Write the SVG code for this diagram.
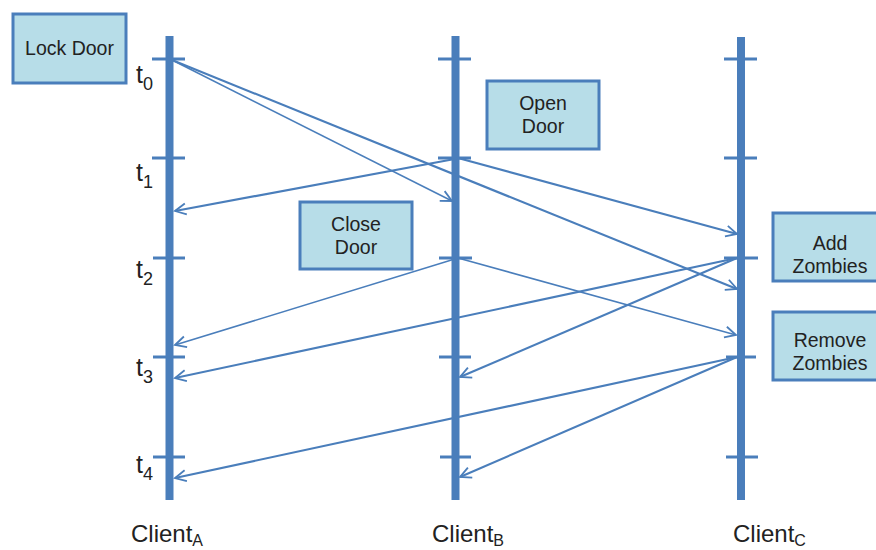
<svg xmlns="http://www.w3.org/2000/svg" width="876" height="550" viewBox="0 0 876 550">
  <style>
    .bar { stroke: #4a7ebb; stroke-width: 8; }
    .tick { stroke: #4a7ebb; stroke-width: 3; }
    .box { fill: #b7dde8; stroke: #4a7ebb; stroke-width: 3; }
    .lbl { font-family: "Liberation Sans", Arial, sans-serif; font-size: 19.5px; fill: #222; text-anchor: middle; }
    .tm { font-family: "Liberation Sans", Arial, sans-serif; font-size: 25px; fill: #222; }
    .cl { font-family: "Liberation Sans", Arial, sans-serif; font-size: 24px; fill: #222; }
    .sub { font-size: 18px; }
    .csub { font-size: 16px; }
    .msg { fill: none; stroke: #4a7ebb; stroke-width: 2.1; marker-end: url(#chev); }
    .msg.thin { stroke-width: 1.5; }
  </style>
  <defs>
    <marker id="chev" viewBox="-13 -8 15 16" refX="0" refY="0" markerWidth="15" markerHeight="16" markerUnits="userSpaceOnUse" orient="auto">
      <path d="M-11,-5.5 L0,0 L-11,5.5" fill="none" stroke="#4a7ebb" stroke-width="1.8"/>
    </marker>
  </defs>

  <rect width="876" height="550" fill="#ffffff"/>

  <!-- client timelines -->
  <g id="timeline-a">
    <line class="bar" x1="169.5" y1="36" x2="169.5" y2="500"/>
    <line class="tick" x1="152" y1="59" x2="185" y2="59"/>
    <line class="tick" x1="152" y1="158" x2="185" y2="158"/>
    <line class="tick" x1="153" y1="258" x2="185" y2="258"/>
    <line class="tick" x1="153" y1="357" x2="185" y2="357"/>
    <line class="tick" x1="153" y1="457" x2="185" y2="457"/>
  </g>
  <g id="timeline-b">
    <line class="bar" x1="455.5" y1="36" x2="455.5" y2="500"/>
    <line class="tick" x1="438" y1="59" x2="471" y2="59"/>
    <line class="tick" x1="438" y1="158" x2="471" y2="158"/>
    <line class="tick" x1="439" y1="258" x2="472" y2="258"/>
    <line class="tick" x1="439" y1="357" x2="471" y2="357"/>
    <line class="tick" x1="440" y1="457" x2="471" y2="457"/>
  </g>
  <g id="timeline-c">
    <line class="bar" x1="741" y1="37" x2="741" y2="500"/>
    <line class="tick" x1="724" y1="59" x2="757" y2="59"/>
    <line class="tick" x1="724" y1="158" x2="757" y2="158"/>
    <line class="tick" x1="724" y1="258" x2="758" y2="258"/>
    <line class="tick" x1="726" y1="357" x2="756" y2="357"/>
    <line class="tick" x1="726" y1="457" x2="758" y2="457"/>
  </g>

  <!-- time labels -->
  <g id="time-labels">
    <text class="tm" x="136" y="83">t<tspan class="sub" dy="7">0</tspan></text>
    <text class="tm" x="136" y="181">t<tspan class="sub" dy="7">1</tspan></text>
    <text class="tm" x="136" y="278">t<tspan class="sub" dy="7">2</tspan></text>
    <text class="tm" x="136" y="376">t<tspan class="sub" dy="7">3</tspan></text>
    <text class="tm" x="136" y="473">t<tspan class="sub" dy="7">4</tspan></text>
  </g>

  <!-- messages -->
  <g id="connectors">
    <line class="msg thin" x1="172" y1="60" x2="452" y2="201"/>
    <line class="msg" x1="172" y1="60" x2="737" y2="289"/>
    <line class="msg" x1="460" y1="158" x2="175" y2="211"/>
    <line class="msg" x1="458" y1="158" x2="737" y2="234"/>
    <line class="msg thin" x1="458" y1="258" x2="175" y2="345"/>
    <line class="msg thin" x1="458" y1="258" x2="736" y2="335"/>
    <line class="msg" x1="737" y1="258" x2="175" y2="378"/>
    <line class="msg" x1="737" y1="258" x2="460" y2="377"/>
    <line class="msg" x1="737" y1="357" x2="175" y2="478"/>
    <line class="msg" x1="737" y1="357" x2="460" y2="477"/>
  </g>

  <!-- operations -->
  <g id="lock-door">
    <rect class="box" x="13" y="14" width="113" height="69"/>
    <text class="lbl" x="69.5" y="55">Lock Door</text>
  </g>
  <g id="open-door">
    <rect class="box" x="487" y="81" width="112" height="68"/>
    <text class="lbl" x="543" y="110">Open</text>
    <text class="lbl" x="543" y="133">Door</text>
  </g>
  <g id="close-door">
    <rect class="box" x="300" y="202" width="112" height="67"/>
    <text class="lbl" x="356" y="231">Close</text>
    <text class="lbl" x="356" y="254">Door</text>
  </g>
  <g id="add-zombies">
    <rect class="box" x="773" y="213" width="114" height="68"/>
    <text class="lbl" x="830" y="250">Add</text>
    <text class="lbl" x="830" y="273">Zombies</text>
  </g>
  <g id="remove-zombies">
    <rect class="box" x="773" y="312" width="114" height="68"/>
    <text class="lbl" x="830" y="347">Remove</text>
    <text class="lbl" x="830" y="370">Zombies</text>
  </g>

  <!-- client names -->
  <g id="client-labels">
    <text class="cl" x="131" y="542">Client<tspan class="csub" dy="4">A</tspan></text>
    <text class="cl" x="432" y="542">Client<tspan class="csub" dy="4">B</tspan></text>
    <text class="cl" x="733" y="542">Client<tspan class="csub" dy="4">C</tspan></text>
  </g>
</svg>
